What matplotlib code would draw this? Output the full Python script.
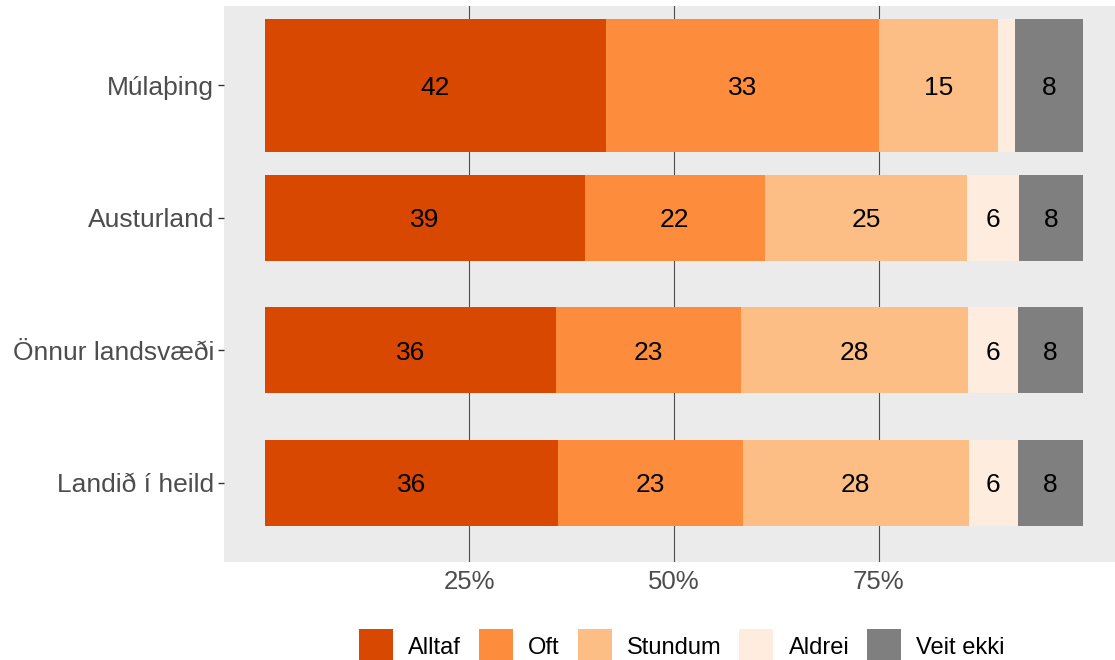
import matplotlib.pyplot as plt
from matplotlib.patches import Patch

plt.rcParams['font.family'] = ['Liberation Sans', 'DejaVu Sans']

regions = ['Múlaþing', 'Austurland', 'Önnur landsvæði', 'Landið í heild']
answers = ['Alltaf', 'Oft', 'Stundum', 'Aldrei', 'Veit ekki']
colors = ['#D94801', '#FD8D3C', '#FDBE85', '#FEEDDE', '#7F7F7F']

# percentages per region, same order as answers
alltaf = [41.7, 39.1, 35.6, 35.8]
oft = [33.3, 22.0, 22.6, 22.6]
stundum = [14.6, 24.7, 27.7, 27.6]
aldrei = [2.1, 6.4, 6.1, 6.0]
veit_ekki = [8.3, 7.8, 8.0, 8.0]
bar_heights = [1.0, 0.65, 0.65, 0.65]

series = [alltaf, oft, stundum, aldrei, veit_ekki]
ypos = [3, 2, 1, 0]

fig = plt.figure(figsize=(11.15, 6.6), dpi=100)
ax = fig.add_axes([224 / 1115, 98 / 660, 900 / 1115, 556 / 660])
ax.set_facecolor('#EBEBEB')

left = [0.0] * len(regions)
for vals, col in zip(series, colors):
    ax.barh(ypos, vals, left=left, height=bar_heights, color=col, zorder=2)
    for y, l, v in zip(ypos, left, vals):
        if v >= 3:
            ax.text(l + v / 2, y, f'{round(v)}', ha='center', va='center_baseline',
                    fontsize=19, color='black', zorder=3)
    left = [a + b for a, b in zip(left, vals)]

ax.set_xlim(-5, 105)
ax.set_ylim(-0.6, 3.6)
ax.set_xticks([25, 50, 75])
ax.set_xticklabels(['25%', '50%', '75%'])
ax.set_yticks(ypos)
ax.set_yticklabels(regions)
ax.grid(axis='x', color='#4D4D4D', linewidth=0.8, zorder=1)
ax.tick_params(axis='x', length=0, pad=6, labelsize=18.5, labelcolor='#4D4D4D')
ax.tick_params(axis='y', length=4, width=1, color='#333333', pad=3,
               labelsize=19, labelcolor='#4D4D4D')
for s in ax.spines.values():
    s.set_visible(False)

handles = [Patch(facecolor=c, edgecolor='none') for c in colors]
fig.legend(handles, answers, loc='center', bbox_to_anchor=(682 / 1115, 14 / 660),
           ncol=5, frameon=False, fontsize=17, handlelength=1.44, handleheight=1.84,
           handletextpad=0.64, columnspacing=0.76, borderpad=0)

fig.savefig('out.png', dpi=100)
